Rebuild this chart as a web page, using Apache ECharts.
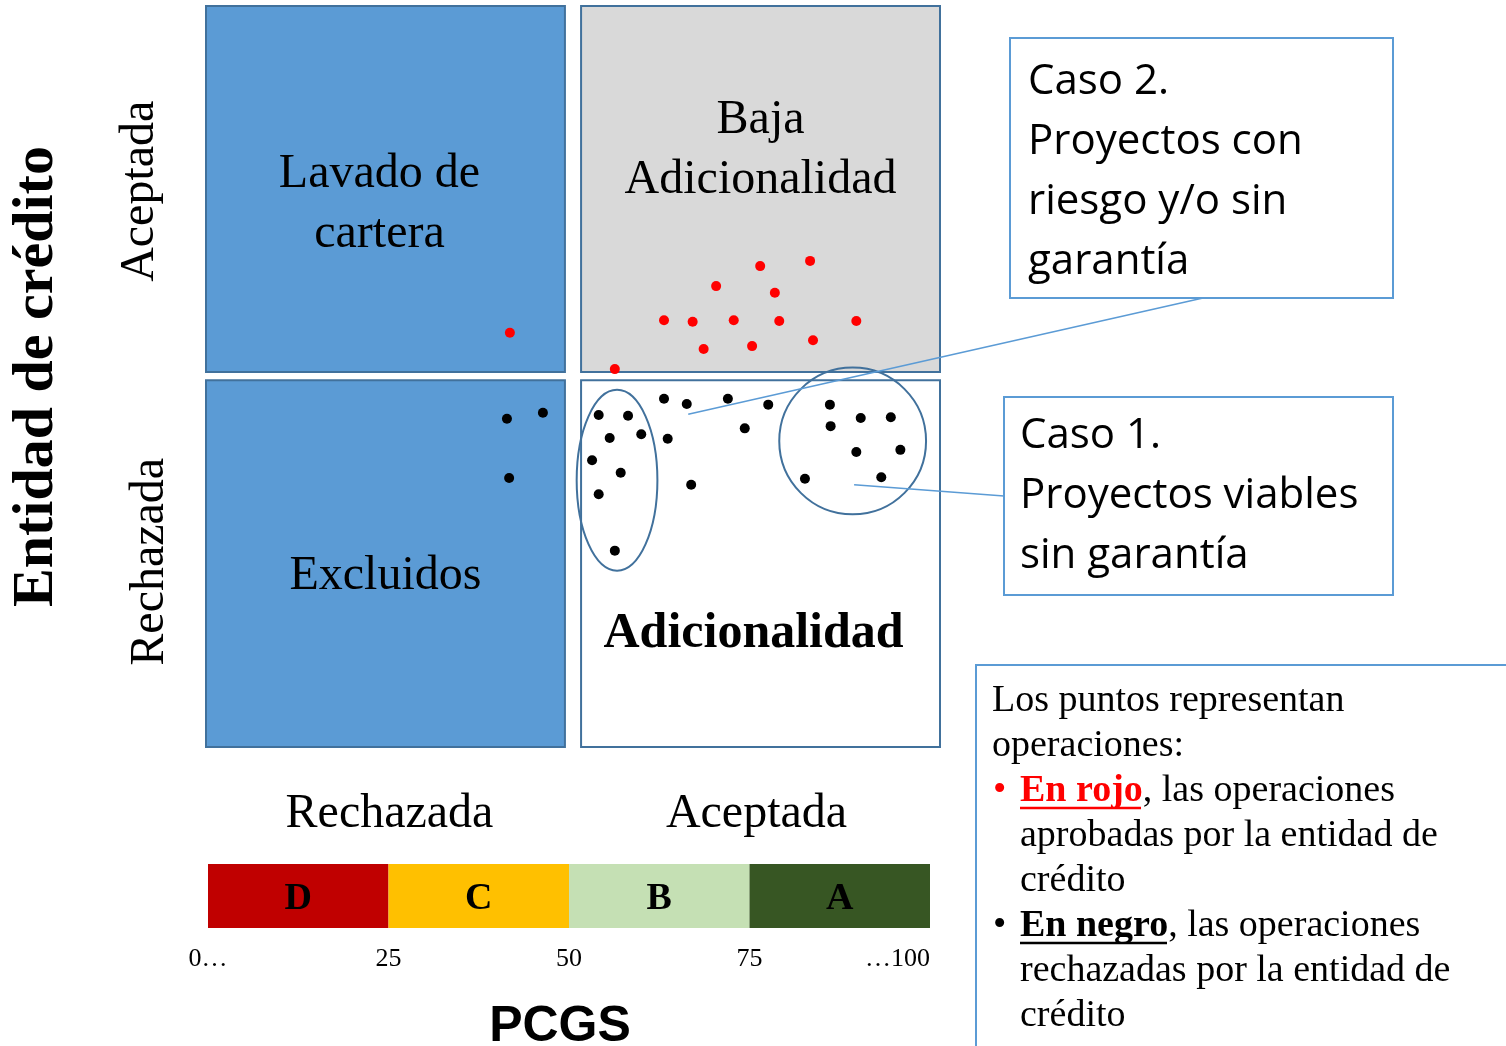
<!DOCTYPE html>
<html><head><meta charset="utf-8">
<script src="https://cdn.jsdelivr.net/npm/echarts@6/dist/echarts.min.js"></script>
<style>html,body{margin:0;padding:0;background:#fff}#c{width:1506px;height:1046px}</style>
</head><body><div id="c"></div>
<script>
// ---------------- DATA ----------------
// Operations approved by the credit entity (red)
const approvedX = [75.5, 82.3, 69.5, 77.5, 62.4, 66.3, 71.9, 78.1, 88.6, 67.8, 74.4, 82.7, 55.7, 41.4];
const approvedY = [64.9, 65.6, 62.2, 61.3, 57.6, 57.4, 57.6, 57.5, 57.5, 53.7, 54.1, 54.9, 51.0, 55.9];
// Operations rejected by the credit entity (black)
const rejectedX = [62.4, 65.5, 71.1, 76.6, 53.5, 57.5, 55.0, 59.3, 62.9, 73.4, 52.6, 56.5, 53.5, 66.1, 55.7,
                   85.0, 89.2, 93.3, 85.1, 88.6, 94.6, 81.6, 92.0, 41.0, 45.9, 41.3];
const rejectedY = [47.0, 46.3, 47.0, 46.2, 44.8, 44.7, 41.7, 42.2, 41.6, 43.0, 38.7, 37.0, 34.1, 35.4, 26.5,
                   46.2, 44.4, 44.5, 43.3, 39.8, 40.1, 36.2, 36.4, 44.3, 45.1, 36.3];
// Quadrants (PCGS x entity decision)
const quadrantNames = ['Lavado de\ncartera', 'Baja\nAdicionalidad', 'Excluidos', 'Adicionalidad'];
const quadrantX = [[0, 48.9], [51.1, 100], [0, 48.9], [51.1, 100]];
const quadrantY = [[50.6, 100], [50.6, 100], [0, 49.5], [0, 49.5]];
const xDecisionLabels = ['Rechazada', 'Aceptada'];   // PCGS decision at 25 / 75
const yDecisionLabels = ['Rechazada', 'Aceptada'];   // entity decision at 25 / 75
// PCGS rating bands
const pcgsBands = ['D', 'C', 'B', 'A'];
const pcgsBreaks = [0, 25, 50, 75, 100];
const pcgsTickLabels = ['0…', '25', '50', '75', '…100'];
// Highlighted groups (ellipses) in data units: centre x, centre y, radius x, radius y
const groupCx = [56.0, 88.1];
const groupCy = [36.0, 41.3];
const groupRx = [5.5, 10.0];
const groupRy = [12.2, 9.9];
// Callout anchors (data units)
const calloutAnchorX = [88.3, 65.7];
const calloutAnchorY = [35.4, 44.9];
const calloutTexts = ['Caso 1.\nProyectos viables\nsin garantía', 'Caso 2.\nProyectos con\nriesgo y/o sin\ngarantía'];

// ---------------- STYLE ----------------
const SERIF = '"Liberation Serif","Times New Roman",serif';
const SANS = '"Open Sans","Noto Sans",sans-serif';
const quadColors = ['#5b9bd5', '#d9d9d9', '#5b9bd5', '#ffffff'];
const quadLabelOffsets = [[-6, 15], [0, -39], [0, 13], [-7, 70]];
const quadLabelSizes = [48, 48, 48, 50];
const bandColors = ['#c00000', '#ffc000', '#c5e0b4', '#375623'];

const chart = echarts.init(document.getElementById('c'), null, {renderer: 'canvas'});

const zip = (xs, ys) => xs.map((x, i) => [x, ys[i]]);

const markAreaData = quadrantNames.map((name, i) => [
  {
    name: name,
    xAxis: quadrantX[i][0], yAxis: quadrantY[i][0],
    itemStyle: {color: quadColors[i], borderColor: '#41719c', borderWidth: 2, opacity: 1},
    label: {
      offset: quadLabelOffsets[i],
      fontSize: quadLabelSizes[i],
      fontWeight: i === 3 ? 'bold' : 'normal'
    }
  },
  {xAxis: quadrantX[i][1], yAxis: quadrantY[i][1]}
]);

const bandSeries = pcgsBands.map((b, i) => ({
  type: 'bar', name: b, stack: 'pcgs', xAxisIndex: 1, yAxisIndex: 1,
  barWidth: '100%', silent: true,
  data: [pcgsBreaks[i + 1] - pcgsBreaks[i]],
  itemStyle: {color: bandColors[i]},
  label: {show: true, position: 'inside', formatter: b, fontFamily: SERIF, fontWeight: 'bold', fontSize: 38, color: '#000', offset: [0, 3]}
}));

const option = {
  animation: false,
  backgroundColor: '#fff',
  grid: [
    {left: 206, top: 6, width: 734, height: 741, outerBoundsMode: 'none', containLabel: false},
    {left: 208, top: 864, width: 722, height: 64, outerBoundsMode: 'none', containLabel: false}
  ],
  xAxis: [
    {
      type: 'value', gridIndex: 0, min: 0, max: 100, interval: 25,
      axisLine: {show: false}, axisTick: {show: false}, splitLine: {show: false},
      axisLabel: {
        margin: 43, fontFamily: SERIF, fontSize: 48, color: '#000',
        formatter: v => v === 25 ? xDecisionLabels[0] : (v === 75 ? xDecisionLabels[1] : '')
      }
    },
    {
      type: 'value', gridIndex: 1, min: 0, max: 100, interval: 25,
      axisLine: {show: false}, axisTick: {show: false}, splitLine: {show: false},
      axisLabel: {
        margin: 18, fontFamily: SERIF, fontSize: 26, color: '#000', alignMaxLabel: 'right',
        formatter: v => pcgsTickLabels[pcgsBreaks.indexOf(v)]
      },
      name: 'PCGS', nameLocation: 'middle', nameGap: 74,
      nameTextStyle: {fontFamily: '"Liberation Sans Narrow","Liberation Sans",sans-serif', fontWeight: 'bold', fontSize: 50, color: '#000', padding: [0, 18, 0, 0]}
    }
  ],
  yAxis: [
    {
      type: 'value', gridIndex: 0, min: 0, max: 100, interval: 25,
      axisLine: {show: false}, axisTick: {show: false}, splitLine: {show: false},
      axisLabel: {
        margin: 32, rotate: 90, fontFamily: SERIF, fontSize: 48, color: '#000',
        formatter: v => v === 25 ? '{r|' + yDecisionLabels[0] + '}' : (v === 75 ? '{a|' + yDecisionLabels[1] + '}' : ''),
        rich: {
          r: {fontFamily: SERIF, fontSize: 48, color: '#000', padding: [0, 0, 0, 0]},
          a: {fontFamily: SERIF, fontSize: 48, color: '#000', padding: [0, 0, 10, 0]}
        }
      },
      name: 'Entidad de crédito', nameLocation: 'middle', nameRotate: 90, nameGap: 140,
      nameTextStyle: {fontFamily: SERIF, fontWeight: 'bold', fontSize: 58, color: '#000'}
    },
    {
      type: 'category', gridIndex: 1, data: ['PCGS'], show: false
    }
  ],
  series: [
    {
      type: 'scatter', name: 'Aprobadas', xAxisIndex: 0, yAxisIndex: 0,
      data: zip(approvedX, approvedY), symbolSize: 10,
      itemStyle: {color: '#ff0000', opacity: 1}, silent: true,
      markArea: {
        silent: true,
        label: {show: true, position: 'inside', fontFamily: SERIF, fontSize: 48, lineHeight: 60, color: '#000'},
        data: markAreaData
      }
    },
    {
      type: 'scatter', name: 'Rechazadas', xAxisIndex: 0, yAxisIndex: 0,
      data: zip(rejectedX, rejectedY), symbolSize: 10,
      itemStyle: {color: '#000000', opacity: 1}, silent: true
    }
  ].concat(bandSeries)
};
chart.setOption(option);

// ---------------- ANNOTATIONS ----------------
const toPx = (x, y) => chart.convertToPixel({gridIndex: 0}, [x, y]);
const graphics = [];
groupCx.forEach((cx, i) => {
  const c = toPx(cx, groupCy[i]);
  const e = toPx(cx + groupRx[i], groupCy[i] + groupRy[i]);
  graphics.push({
    type: 'ellipse', z: 100, silent: true,
    shape: {cx: c[0], cy: c[1], rx: e[0] - c[0], ry: c[1] - e[1]},
    style: {fill: 'none', stroke: '#41719c', lineWidth: 2}
  });
});
const boxes = [
  {x: 1004, y: 397, w: 389, h: 198, tx: 1020, ty: 406, lx: 1004, ly: 496},
  {x: 1010, y: 38, w: 383, h: 260, tx: 1028, ty: 52, lx: 1203, ly: 298}
];
boxes.forEach((b, i) => {
  const a = toPx(calloutAnchorX[i], calloutAnchorY[i]);
  graphics.push({
    type: 'line', z: 101, silent: true,
    shape: {x1: a[0], y1: a[1], x2: b.lx, y2: b.ly},
    style: {stroke: '#5b9bd5', lineWidth: 1.5}
  });
  graphics.push({
    type: 'rect', z: 102, silent: true,
    shape: {x: b.x, y: b.y, width: b.w, height: b.h},
    style: {fill: '#fff', stroke: '#5b9bd5', lineWidth: 2}
  });
  graphics.push({
    type: 'text', z: 103, silent: true,
    style: {x: b.tx, y: b.ty, text: calloutTexts[i], fontFamily: SANS, fontSize: 42, lineHeight: 60,
            fill: '#000', align: 'left', verticalAlign: 'top'}
  });
});
// Explanation box
graphics.push({
  type: 'polyline', z: 100, silent: true,
  shape: {points: [[976, 1046], [976, 665], [1506, 665]]},
  style: {fill: 'none', stroke: '#5b9bd5', lineWidth: 2}
});
const legFont = {fontFamily: SERIF, fontSize: 38};
graphics.push({
  type: 'text', z: 103, silent: true,
  style: Object.assign({x: 992, y: 679, text: 'Los puntos representan\noperaciones:', lineHeight: 45, fill: '#000', verticalAlign: 'top'}, legFont)
});
graphics.push({
  type: 'text', z: 103, silent: true,
  style: Object.assign({x: 993, y: 769, text: '•', lineHeight: 45, fill: '#ff0000', verticalAlign: 'top'}, legFont)
});
graphics.push({
  type: 'text', z: 103, silent: true,
  style: Object.assign({x: 993, y: 904, text: '•', lineHeight: 45, fill: '#000', verticalAlign: 'top'}, legFont)
});
graphics.push({
  type: 'text', z: 103, silent: true,
  style: Object.assign({
    x: 1020, y: 769, lineHeight: 45, fill: '#000', verticalAlign: 'top',
    text: '{r|En rojo}, las operaciones\naprobadas por la entidad de\ncrédito',
    rich: {r: Object.assign({fontWeight: 'bold', fill: '#ff0000', lineHeight: 45}, legFont)}
  }, legFont)
});
graphics.push({
  type: 'text', z: 103, silent: true,
  style: Object.assign({
    x: 1020, y: 904, lineHeight: 45, fill: '#000', verticalAlign: 'top',
    text: '{b|En negro}, las operaciones\nrechazadas por la entidad de\ncrédito',
    rich: {b: Object.assign({fontWeight: 'bold', fill: '#000', lineHeight: 45}, legFont)}
  }, legFont)
});
graphics.push({
  type: 'line', z: 103, silent: true,
  shape: {x1: 1020, y1: 808, x2: 1141, y2: 808}, style: {stroke: '#ff0000', lineWidth: 2.5}
});
graphics.push({
  type: 'line', z: 103, silent: true,
  shape: {x1: 1020, y1: 943, x2: 1167, y2: 943}, style: {stroke: '#000', lineWidth: 2.5}
});
chart.setOption({graphic: graphics});
</script>
</body></html>
